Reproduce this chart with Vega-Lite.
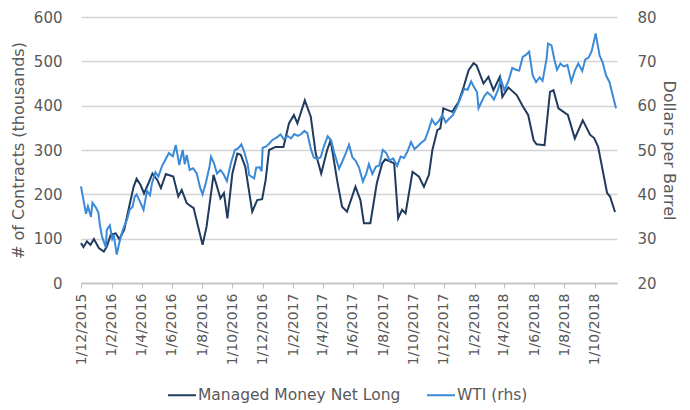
{
  "$schema": "https://vega.github.io/schema/vega-lite/v6.json",
  "autosize": "none",
  "width": 536,
  "height": 266,
  "padding": {"left": 81, "top": 17, "right": 73, "bottom": 127},
  "background": "white",
  "config": {
    "view": {"stroke": null},
    "font": "DejaVu Sans",
    "axis": {"labelColor": "#595959", "titleColor": "#595959", "titleFontWeight": "normal"},
    "legend": {"labelColor": "#595959"}
  },
  "datasets": {
    "mm": [
      {"date": "2015-12-01", "value": 90}, {"date": "2015-12-06", "value": 81}, {"date": "2015-12-13", "value": 94},
      {"date": "2015-12-20", "value": 86}, {"date": "2015-12-27", "value": 99}, {"date": "2016-01-06", "value": 79},
      {"date": "2016-01-16", "value": 71}, {"date": "2016-01-22", "value": 82}, {"date": "2016-01-30", "value": 109},
      {"date": "2016-02-09", "value": 112}, {"date": "2016-02-16", "value": 99}, {"date": "2016-02-26", "value": 120},
      {"date": "2016-03-07", "value": 172}, {"date": "2016-03-16", "value": 217}, {"date": "2016-03-22", "value": 235},
      {"date": "2016-03-30", "value": 221}, {"date": "2016-04-06", "value": 202}, {"date": "2016-04-15", "value": 225},
      {"date": "2016-04-23", "value": 247}, {"date": "2016-05-03", "value": 232}, {"date": "2016-05-10", "value": 214},
      {"date": "2016-05-20", "value": 246}, {"date": "2016-06-04", "value": 240}, {"date": "2016-06-14", "value": 195},
      {"date": "2016-06-21", "value": 210}, {"date": "2016-07-01", "value": 180}, {"date": "2016-07-15", "value": 169},
      {"date": "2016-07-24", "value": 127}, {"date": "2016-08-02", "value": 86}, {"date": "2016-08-10", "value": 127},
      {"date": "2016-08-24", "value": 244}, {"date": "2016-09-07", "value": 191}, {"date": "2016-09-14", "value": 203},
      {"date": "2016-09-21", "value": 146}, {"date": "2016-10-01", "value": 247}, {"date": "2016-10-11", "value": 292},
      {"date": "2016-10-18", "value": 289}, {"date": "2016-10-27", "value": 262}, {"date": "2016-11-10", "value": 161},
      {"date": "2016-11-20", "value": 187}, {"date": "2016-11-30", "value": 189}, {"date": "2016-12-07", "value": 232},
      {"date": "2016-12-14", "value": 300}, {"date": "2016-12-27", "value": 307}, {"date": "2017-01-12", "value": 307},
      {"date": "2017-01-23", "value": 360}, {"date": "2017-02-02", "value": 379}, {"date": "2017-02-09", "value": 360},
      {"date": "2017-02-24", "value": 412}, {"date": "2017-03-08", "value": 375}, {"date": "2017-03-18", "value": 292},
      {"date": "2017-03-29", "value": 247}, {"date": "2017-04-10", "value": 300}, {"date": "2017-04-17", "value": 322},
      {"date": "2017-04-30", "value": 232}, {"date": "2017-05-10", "value": 172}, {"date": "2017-05-20", "value": 161},
      {"date": "2017-06-06", "value": 217}, {"date": "2017-06-16", "value": 187}, {"date": "2017-06-23", "value": 135},
      {"date": "2017-07-06", "value": 135}, {"date": "2017-07-19", "value": 225}, {"date": "2017-07-30", "value": 270},
      {"date": "2017-08-05", "value": 279}, {"date": "2017-08-23", "value": 270}, {"date": "2017-08-31", "value": 146},
      {"date": "2017-09-08", "value": 165}, {"date": "2017-09-15", "value": 157}, {"date": "2017-09-29", "value": 251},
      {"date": "2017-10-12", "value": 240}, {"date": "2017-10-22", "value": 217}, {"date": "2017-11-01", "value": 244},
      {"date": "2017-11-08", "value": 300}, {"date": "2017-11-18", "value": 345}, {"date": "2017-11-24", "value": 349},
      {"date": "2017-11-30", "value": 394}, {"date": "2017-12-18", "value": 386}, {"date": "2017-12-31", "value": 409},
      {"date": "2018-01-10", "value": 442}, {"date": "2018-01-20", "value": 480}, {"date": "2018-01-30", "value": 496},
      {"date": "2018-02-05", "value": 491}, {"date": "2018-02-19", "value": 450}, {"date": "2018-03-01", "value": 465},
      {"date": "2018-03-11", "value": 435}, {"date": "2018-03-24", "value": 465}, {"date": "2018-03-29", "value": 420},
      {"date": "2018-04-10", "value": 441}, {"date": "2018-04-27", "value": 424}, {"date": "2018-05-10", "value": 397},
      {"date": "2018-05-20", "value": 379}, {"date": "2018-05-31", "value": 322}, {"date": "2018-06-06", "value": 313},
      {"date": "2018-06-22", "value": 311}, {"date": "2018-07-03", "value": 431}, {"date": "2018-07-10", "value": 435},
      {"date": "2018-07-20", "value": 394}, {"date": "2018-08-08", "value": 379}, {"date": "2018-08-22", "value": 326},
      {"date": "2018-09-07", "value": 367}, {"date": "2018-09-22", "value": 334}, {"date": "2018-09-30", "value": 327},
      {"date": "2018-10-08", "value": 307}, {"date": "2018-10-26", "value": 203}, {"date": "2018-11-01", "value": 195},
      {"date": "2018-11-11", "value": 160}
    ],
    "wti": [
      {"date": "2015-12-01", "value": 41.8}, {"date": "2015-12-04", "value": 39.9}, {"date": "2015-12-08", "value": 37.5},
      {"date": "2015-12-11", "value": 35.6}, {"date": "2015-12-15", "value": 37.3}, {"date": "2015-12-21", "value": 34.9},
      {"date": "2015-12-24", "value": 38.1}, {"date": "2015-12-31", "value": 37.0}, {"date": "2016-01-05", "value": 35.9},
      {"date": "2016-01-08", "value": 33.2}, {"date": "2016-01-12", "value": 30.6}, {"date": "2016-01-15", "value": 29.6},
      {"date": "2016-01-20", "value": 28.0}, {"date": "2016-01-22", "value": 32.0}, {"date": "2016-01-28", "value": 33.0},
      {"date": "2016-02-02", "value": 30.0}, {"date": "2016-02-05", "value": 30.9}, {"date": "2016-02-11", "value": 26.4},
      {"date": "2016-02-16", "value": 29.0}, {"date": "2016-02-22", "value": 31.5}, {"date": "2016-02-26", "value": 32.8},
      {"date": "2016-03-03", "value": 34.4}, {"date": "2016-03-08", "value": 36.5}, {"date": "2016-03-14", "value": 37.2},
      {"date": "2016-03-18", "value": 39.4}, {"date": "2016-03-22", "value": 40.0}, {"date": "2016-03-29", "value": 38.3},
      {"date": "2016-04-05", "value": 36.5}, {"date": "2016-04-12", "value": 40.8}, {"date": "2016-04-18", "value": 39.8},
      {"date": "2016-04-22", "value": 42.5}, {"date": "2016-04-29", "value": 45.0}, {"date": "2016-05-05", "value": 44.0},
      {"date": "2016-05-12", "value": 46.3}, {"date": "2016-05-19", "value": 47.8}, {"date": "2016-05-26", "value": 49.3},
      {"date": "2016-06-03", "value": 48.6}, {"date": "2016-06-09", "value": 51.1}, {"date": "2016-06-16", "value": 46.6},
      {"date": "2016-06-23", "value": 50.0}, {"date": "2016-06-27", "value": 46.8}, {"date": "2016-07-01", "value": 48.9},
      {"date": "2016-07-07", "value": 45.5}, {"date": "2016-07-14", "value": 45.9}, {"date": "2016-07-21", "value": 44.8},
      {"date": "2016-07-28", "value": 41.5}, {"date": "2016-08-02", "value": 40.0}, {"date": "2016-08-09", "value": 42.8},
      {"date": "2016-08-16", "value": 46.3}, {"date": "2016-08-19", "value": 48.5}, {"date": "2016-08-25", "value": 47.0},
      {"date": "2016-08-31", "value": 44.7}, {"date": "2016-09-07", "value": 45.5}, {"date": "2016-09-13", "value": 44.6},
      {"date": "2016-09-20", "value": 43.0}, {"date": "2016-09-28", "value": 47.0}, {"date": "2016-10-06", "value": 50.0},
      {"date": "2016-10-13", "value": 50.4}, {"date": "2016-10-19", "value": 51.3}, {"date": "2016-10-25", "value": 49.6},
      {"date": "2016-11-01", "value": 46.7}, {"date": "2016-11-04", "value": 44.3}, {"date": "2016-11-14", "value": 43.6},
      {"date": "2016-11-18", "value": 46.0}, {"date": "2016-11-25", "value": 46.1}, {"date": "2016-11-29", "value": 45.2},
      {"date": "2016-12-01", "value": 50.5}, {"date": "2016-12-08", "value": 50.8}, {"date": "2016-12-14", "value": 51.4},
      {"date": "2016-12-20", "value": 52.2}, {"date": "2016-12-29", "value": 52.8}, {"date": "2017-01-06", "value": 53.5},
      {"date": "2017-01-13", "value": 52.4}, {"date": "2017-01-20", "value": 53.2}, {"date": "2017-01-27", "value": 52.6},
      {"date": "2017-02-03", "value": 53.6}, {"date": "2017-02-10", "value": 53.2}, {"date": "2017-02-17", "value": 53.6},
      {"date": "2017-02-23", "value": 54.3}, {"date": "2017-03-01", "value": 53.8}, {"date": "2017-03-08", "value": 50.3},
      {"date": "2017-03-14", "value": 48.3}, {"date": "2017-03-22", "value": 48.0}, {"date": "2017-03-28", "value": 48.4},
      {"date": "2017-04-04", "value": 51.0}, {"date": "2017-04-11", "value": 53.1}, {"date": "2017-04-18", "value": 52.2},
      {"date": "2017-04-24", "value": 49.5}, {"date": "2017-05-04", "value": 45.8}, {"date": "2017-05-10", "value": 47.3},
      {"date": "2017-05-17", "value": 49.1}, {"date": "2017-05-24", "value": 51.2}, {"date": "2017-05-31", "value": 48.3},
      {"date": "2017-06-06", "value": 47.6}, {"date": "2017-06-13", "value": 46.1}, {"date": "2017-06-21", "value": 42.9},
      {"date": "2017-06-28", "value": 44.7}, {"date": "2017-07-03", "value": 46.8}, {"date": "2017-07-10", "value": 44.6},
      {"date": "2017-07-17", "value": 46.2}, {"date": "2017-07-24", "value": 46.5}, {"date": "2017-07-31", "value": 50.0},
      {"date": "2017-08-07", "value": 49.3}, {"date": "2017-08-14", "value": 47.6}, {"date": "2017-08-21", "value": 48.1},
      {"date": "2017-08-29", "value": 46.4}, {"date": "2017-09-05", "value": 48.5}, {"date": "2017-09-12", "value": 48.2},
      {"date": "2017-09-19", "value": 49.7}, {"date": "2017-09-26", "value": 51.8}, {"date": "2017-10-03", "value": 50.2},
      {"date": "2017-10-10", "value": 50.9}, {"date": "2017-10-17", "value": 51.7}, {"date": "2017-10-24", "value": 52.3},
      {"date": "2017-10-31", "value": 54.4}, {"date": "2017-11-07", "value": 56.9}, {"date": "2017-11-14", "value": 55.7},
      {"date": "2017-11-21", "value": 56.5}, {"date": "2017-11-28", "value": 57.9}, {"date": "2017-12-05", "value": 56.2},
      {"date": "2017-12-12", "value": 57.1}, {"date": "2017-12-19", "value": 57.8}, {"date": "2017-12-27", "value": 59.6},
      {"date": "2018-01-04", "value": 61.8}, {"date": "2018-01-11", "value": 63.8}, {"date": "2018-01-18", "value": 63.6},
      {"date": "2018-01-25", "value": 65.5}, {"date": "2018-01-30", "value": 64.4}, {"date": "2018-02-06", "value": 63.0},
      {"date": "2018-02-09", "value": 59.4}, {"date": "2018-02-14", "value": 60.6}, {"date": "2018-02-21", "value": 62.2},
      {"date": "2018-02-27", "value": 63.0}, {"date": "2018-03-06", "value": 62.3}, {"date": "2018-03-12", "value": 61.4},
      {"date": "2018-03-20", "value": 63.5}, {"date": "2018-03-26", "value": 65.9}, {"date": "2018-04-02", "value": 63.5},
      {"date": "2018-04-10", "value": 65.5}, {"date": "2018-04-18", "value": 68.5}, {"date": "2018-04-25", "value": 68.1},
      {"date": "2018-05-02", "value": 67.9}, {"date": "2018-05-09", "value": 71.0}, {"date": "2018-05-16", "value": 71.5},
      {"date": "2018-05-22", "value": 72.2}, {"date": "2018-05-29", "value": 66.9}, {"date": "2018-06-05", "value": 65.3},
      {"date": "2018-06-12", "value": 66.4}, {"date": "2018-06-18", "value": 65.6}, {"date": "2018-06-26", "value": 70.5},
      {"date": "2018-06-29", "value": 74.0}, {"date": "2018-07-06", "value": 73.6}, {"date": "2018-07-12", "value": 70.3},
      {"date": "2018-07-17", "value": 68.1}, {"date": "2018-07-24", "value": 69.5}, {"date": "2018-07-31", "value": 68.8},
      {"date": "2018-08-07", "value": 69.2}, {"date": "2018-08-15", "value": 65.4}, {"date": "2018-08-22", "value": 67.9},
      {"date": "2018-08-29", "value": 69.5}, {"date": "2018-09-06", "value": 67.8}, {"date": "2018-09-12", "value": 70.4},
      {"date": "2018-09-19", "value": 70.9}, {"date": "2018-09-25", "value": 72.3}, {"date": "2018-10-03", "value": 76.3},
      {"date": "2018-10-11", "value": 71.3}, {"date": "2018-10-17", "value": 69.8}, {"date": "2018-10-24", "value": 66.8},
      {"date": "2018-10-31", "value": 65.3}, {"date": "2018-11-06", "value": 62.5}, {"date": "2018-11-13", "value": 59.4}
    ]
  },
  "encoding": {
    "x": {
      "field": "date", "type": "temporal",
      "scale": {"domain": [{"year": 2015, "month": 12, "date": 1}, {"year": 2018, "month": 11, "date": 15}]},
      "axis": {
        "title": null, "format": "%-d/%-m/%Y", "labelAngle": 270, "labelFontSize": 14, "labelPadding": 5,
        "grid": false, "tickSize": 5, "tickColor": "#bfbfbf", "domainColor": "#bfbfbf", "domainWidth": 1.5,
        "labelFlush": false, "labelOverlap": false, "labelBound": false, "labelSeparation": 0,
        "values": [
          {"year": 2015, "month": 12, "date": 1}, {"year": 2016, "month": 2, "date": 1}, {"year": 2016, "month": 4, "date": 1},
          {"year": 2016, "month": 6, "date": 1}, {"year": 2016, "month": 8, "date": 1}, {"year": 2016, "month": 10, "date": 1},
          {"year": 2016, "month": 12, "date": 1}, {"year": 2017, "month": 2, "date": 1}, {"year": 2017, "month": 4, "date": 1},
          {"year": 2017, "month": 6, "date": 1}, {"year": 2017, "month": 8, "date": 1}, {"year": 2017, "month": 10, "date": 1},
          {"year": 2017, "month": 12, "date": 1}, {"year": 2018, "month": 2, "date": 1}, {"year": 2018, "month": 4, "date": 1},
          {"year": 2018, "month": 6, "date": 1}, {"year": 2018, "month": 8, "date": 1}, {"year": 2018, "month": 10, "date": 1}
        ]
      }
    }
  },
  "layer": [
    {
      "data": {"name": "mm"},
      "mark": {"type": "line", "strokeWidth": 2},
      "encoding": {
        "y": {
          "field": "value", "type": "quantitative",
          "scale": {"domain": [0, 600], "nice": false},
          "axis": {
            "title": "# of Contracts (thousands)", "titleFontSize": 16, "titlePadding": 7,
            "labelFontSize": 15, "labelPadding": 19, "ticks": false, "domain": false,
            "grid": true, "gridColor": "#d4d4d4", "gridWidth": 1.5,
            "values": [0, 100, 200, 300, 400, 500, 600]
          }
        },
        "color": {
          "datum": "Managed Money Net Long",
          "scale": {"domain": ["Managed Money Net Long", "WTI (rhs)"], "range": ["#1f3b5e", "#3b8ad8"]},
          "legend": {
            "title": null, "orient": "none", "legendX": 86, "legendY": 363, "direction": "horizontal",
            "symbolType": "stroke", "symbolSize": 784, "symbolStrokeWidth": 2, "labelFontSize": 15.5,
            "labelLimit": 400, "labelOffset": 1, "columnPadding": 22, "padding": 0
          }
        }
      }
    },
    {
      "data": {"name": "wti"},
      "mark": {"type": "line", "strokeWidth": 2},
      "encoding": {
        "y": {
          "field": "value", "type": "quantitative",
          "scale": {"domain": [20, 80], "nice": false},
          "axis": {
            "orient": "right", "title": "Dollars per Barrel", "titleFontSize": 16, "titlePadding": 4,
            "labelFontSize": 15, "labelPadding": 20, "ticks": false, "domain": false, "grid": false,
            "values": [20, 30, 40, 50, 60, 70, 80]
          }
        },
        "color": {"datum": "WTI (rhs)"}
      }
    }
  ],
  "resolve": {"scale": {"y": "independent"}}
}
